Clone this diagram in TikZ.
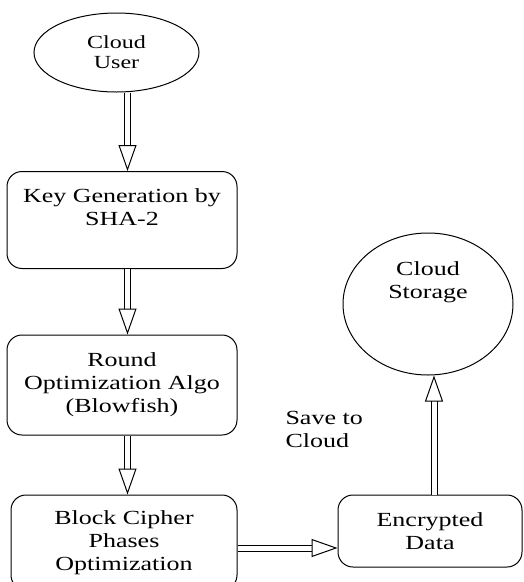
\documentclass[tikz,border=0pt]{standalone}
\usepackage{fontspec}
\setmainfont{Liberation Serif}[FakeStretch=1.3]
\usetikzlibrary{arrows.meta, positioning, shapes.geometric}

\begin{document}
\begin{tikzpicture}[x=1pt, y=-1pt,
        every node/.style={align=center, font=\fontsize{20}{23}\selectfont},
        stepbox/.style={draw, rounded corners=15pt, line width=1pt, inner sep=0pt},
        cloudnode/.style={draw, ellipse, line width=1pt, inner sep=0pt},
        dblarrow/.style={double, double distance=5pt, line width=1pt,
            -{Triangle[open, length=26pt, width=18pt]}}
    ]
        \useasboundingbox (0,0) rectangle (523,582);

        % Các nút chính
        \node[cloudnode, minimum width=165pt, minimum height=79pt,
            font=\fontsize{18.5}{20}\selectfont] (user) at (116.5,52.5) {Cloud\\User};
        \node[stepbox, minimum width=230pt, minimum height=97pt] (keygen) at (122,220) {};
        \node (keygentxt) at (122,207) {Key Generation by\\SHA-2};
        \node[stepbox, minimum width=230pt, minimum height=100pt] (round) at (122,385)
            {Round\\Optimization Algo\\(Blowfish)};
        \node[stepbox, minimum width=226pt, minimum height=95pt] (block) at (124,542.5)
            {Block Cipher\\Phases\\Optimization};
        \node[stepbox, minimum width=184pt, minimum height=72pt] (enc) at (430,531)
            {Encrypted\\Data};
        \node[cloudnode, minimum width=170pt, minimum height=142pt] (storage) at (428,304) {};
        \node (storagetxt) at (428,282) {Cloud\\Storage};
        \node[anchor=west, align=left] (save) at (282,429) {Save to\\Cloud};

        % Các mũi tên
        \coordinate (axis) at (127.5,0);
        \coordinate (saveline) at (0,548);
        \coordinate (upline) at (434,0);
        \draw[dblarrow] (user.south -| axis) -- (keygen.north -| axis);
        \draw[dblarrow] (keygen.south -| axis) -- (round.north -| axis);
        \draw[dblarrow] (round.south -| axis) -- (block.north -| axis);
        \draw[dblarrow] (block.east |- saveline) -- (enc.west |- saveline);
        \draw[dblarrow] (enc.north -| upline) -- (storage.south -| upline);
    \end{tikzpicture}
\end{document}
